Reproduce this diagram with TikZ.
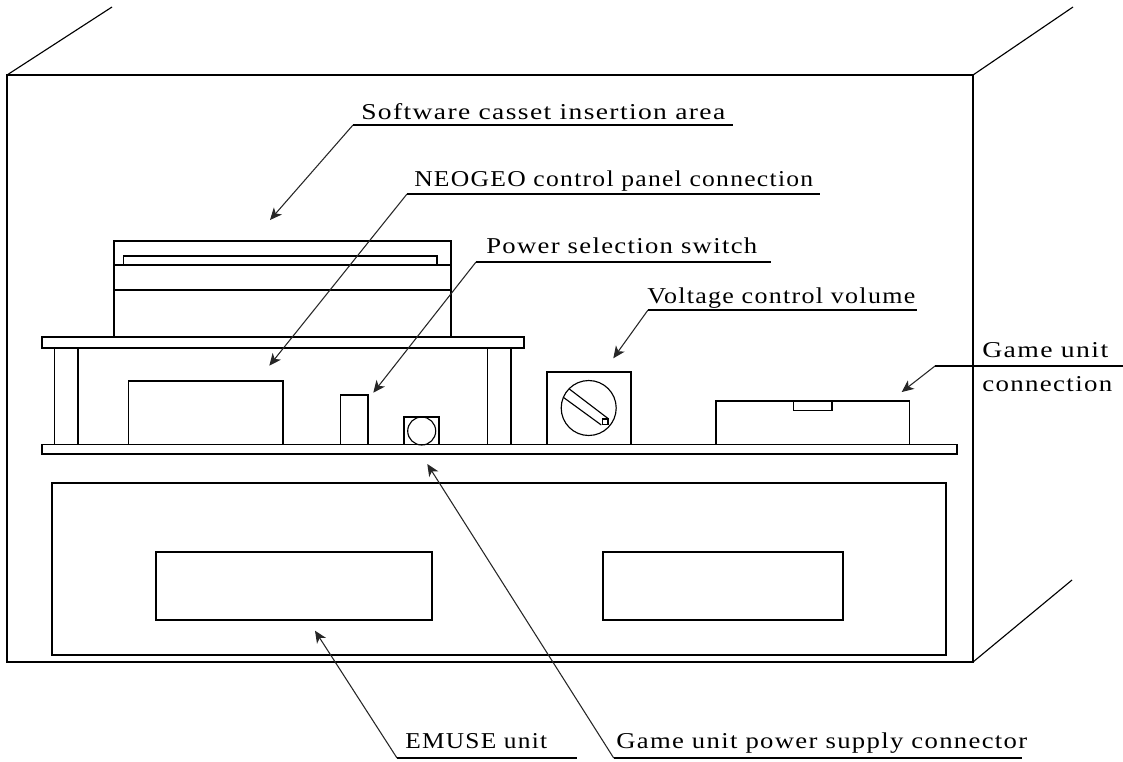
\documentclass[tikz,border=0pt]{standalone}
\usepackage{graphicx}
\usepackage{fontspec}
\setmainfont[LetterSpace=5]{Liberation Serif}
\usetikzlibrary{arrows.meta}
\newcommand{\fitlab}[2]{\resizebox{\dimexpr #1pt*3/4\relax}{\height}{#2}}
\tikzset{
 x=0.75pt,y=-0.75pt,
 ln/.style={draw=black,line width=1.1pt},
 thinln/.style={draw=black,line width=0.85pt},
 lead/.style={draw=black!85,line width=0.8pt,-{Stealth[length=9pt,width=8pt,inset=2.5pt]}},
 lab/.style={anchor=base west,inner sep=0pt,font=\fontsize{17}{18}\selectfont,text=black},
}
\begin{document}
\begin{tikzpicture}[line join=miter]
\useasboundingbox (0,0) rectangle (1123,761);
% housing
\draw[ln] (7,75) rectangle (973,662);
\draw[thinln] (7,75) -- (112,7);
\draw[thinln] (973,75) -- (1073,7);
\draw[thinln] (973,662) -- (1072,580);
% emuse
\draw[ln] (52,483) rectangle (946,655);
\draw[ln] (156,552) rectangle (432,620);
\draw[ln] (603,552) rectangle (843,620);
% cassette
\draw[ln] (114,337) -- (114,241) -- (451,241) -- (451,337);
\draw[ln] (114,265) -- (451,265);
\draw[ln] (114,290) -- (451,290);
\draw[ln] (123.5,265) -- (123.5,256) -- (437,256) -- (437,265);
% plates
\draw[ln] (42,337) rectangle (524,348);
\draw[ln] (42,444.5) rectangle (957,454);
\draw[ln] (54.5,348) -- (54.5,444.5);
\draw[ln] (78,348) -- (78,444.5);
\draw[ln] (487.5,348) -- (487.5,444.5);
\draw[ln] (511,348) -- (511,444.5);
% parts
\draw[ln] (128.5,444.5) -- (128.5,381) -- (283,381) -- (283,444.5);
\draw[ln] (340.5,444.5) -- (340.5,395) -- (368,395) -- (368,444.5);
\draw[ln] (404,444.5) -- (404,417) -- (439,417) -- (439,444.5);
\draw[thinln] (421.7,431) circle[radius=14];
\draw[ln] (547,444.5) -- (547,372) -- (631,372) -- (631,444.5);
\draw[thinln] (588.7,408) circle[radius=27.5];
\draw[thinln] (569.3,389) -- (608.7,419);
\draw[thinln] (563.3,397.3) -- (601.3,425);
\draw[thinln] (602.5,419) rectangle (608,424.5);
\draw[ln] (716,444.5) -- (716,401) -- (909.5,401) -- (909.5,444.5);
\draw[ln] (793.5,401) -- (793.5,410.5) -- (832,410.5) -- (832,401);
% labels
\node[lab] (l1) at (361,119) {\fitlab{364}{Software casset insertion area}};
\node[lab] (l2) at (414,186) {\fitlab{399}{NEOGEO control panel connection}};
\node[lab] (l3) at (486,253) {\fitlab{271}{Power selection switch}};
\node[lab] (l4) at (647,303) {\fitlab{268}{Voltage control volume}};
\node[lab] (l5) at (982,357) {\fitlab{126}{Game unit}};
\node[lab] (l6) at (982,391) {\fitlab{130}{connection}};
\node[lab] (l7) at (405,748) {\fitlab{142}{EMUSE unit}};
\node[lab] (l8) at (616,748) {\fitlab{411}{Game unit power supply connector}};
% leaders
\coordinate (t1) at (270,220);
\coordinate (t2) at (269.3,365.7);
\coordinate (t3) at (373.3,392.7);
\coordinate (t4) at (613.3,358.3);
\coordinate (t5) at (901.7,392);
\coordinate (t7) at (315,630.7);
\coordinate (t8) at (427.3,464);
\draw[lead] (353,125) -- (t1);
\draw[lead] (407,194) -- (t2);
\draw[lead] (476,262) -- (t3);
\draw[lead] (648,310) -- (t4);
\draw[lead] (935,366) -- (t5);
\draw[lead] (397,758) -- (t7);
\draw[lead] (613.7,758) -- (t8);
\draw[ln] (353,125) -- (733,125);
\draw[ln] (407,194) -- (820,194);
\draw[ln] (476,262) -- (771,262);
\draw[ln] (648,310) -- (917,310);
\draw[ln] (935,366) -- (1123,366);
\draw[ln] (397,758) -- (577,758);
\draw[ln] (613.7,758) -- (1022,758);
\end{tikzpicture}
\end{document}
